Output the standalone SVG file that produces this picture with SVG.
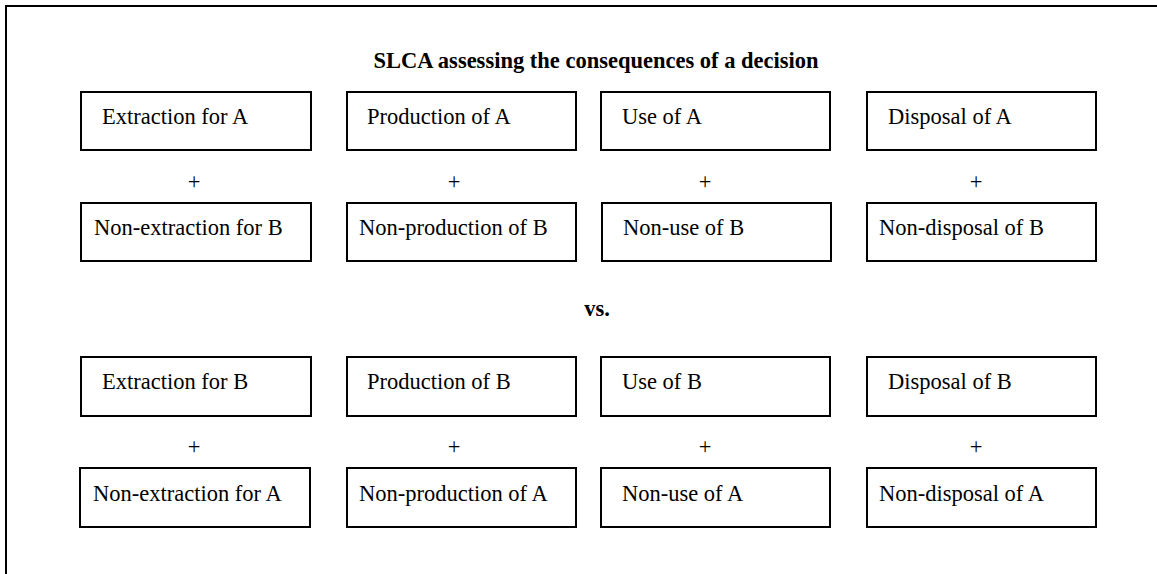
<svg xmlns="http://www.w3.org/2000/svg" width="1157" height="574" viewBox="0 0 1157 574">
<style>
.box{fill:#fff;stroke:#000;stroke-width:2}
.t{font-family:'Liberation Serif','Times New Roman',Tinos,'DejaVu Serif',serif;font-size:22.5px;fill:#000}
.b{font-weight:bold}
.p{text-anchor:middle}
</style>
<rect width="1157" height="574" fill="#fff"/>
<path d="M6,574 V6 H1157" fill="none" stroke="#000" stroke-width="2"/>
<text class="t b p" x="596" y="68">SLCA assessing the consequences of a decision</text>
<text class="t b p" x="597" y="316">vs.</text>
<g id="n1"><rect class="box" x="81" y="92" width="230" height="58"/><text class="t" x="102" y="124">Extraction for A</text></g>
<g id="n2"><rect class="box" x="347" y="92" width="229" height="58"/><text class="t" x="367" y="124">Production of A</text></g>
<g id="n3"><rect class="box" x="601" y="92" width="229" height="58"/><text class="t" x="622" y="124">Use of A</text></g>
<g id="n4"><rect class="box" x="867" y="92" width="229" height="58"/><text class="t" x="888" y="124">Disposal of A</text></g>
<g id="p1"><text class="t p" x="194" y="189">+</text><text class="t p" x="454" y="189">+</text><text class="t p" x="705" y="189">+</text><text class="t p" x="976" y="189">+</text></g>
<g id="n5"><rect class="box" x="81" y="203" width="230" height="58"/><text class="t" x="94" y="235">Non-extraction for B</text></g>
<g id="n6"><rect class="box" x="347" y="203" width="229" height="58"/><text class="t" x="359" y="235">Non-production of B</text></g>
<g id="n7"><rect class="box" x="602" y="203" width="229" height="58"/><text class="t" x="623" y="235">Non-use of B</text></g>
<g id="n8"><rect class="box" x="867" y="203" width="229" height="58"/><text class="t" x="879" y="235">Non-disposal of B</text></g>
<g id="n9"><rect class="box" x="81" y="357" width="230" height="59"/><text class="t" x="102" y="389">Extraction for B</text></g>
<g id="n10"><rect class="box" x="347" y="357" width="229" height="59"/><text class="t" x="367" y="389">Production of B</text></g>
<g id="n11"><rect class="box" x="601" y="357" width="229" height="59"/><text class="t" x="622" y="389">Use of B</text></g>
<g id="n12"><rect class="box" x="867" y="357" width="229" height="59"/><text class="t" x="888" y="389">Disposal of B</text></g>
<g id="p2"><text class="t p" x="194" y="454">+</text><text class="t p" x="454" y="454">+</text><text class="t p" x="705" y="454">+</text><text class="t p" x="976" y="454">+</text></g>
<g id="n13"><rect class="box" x="80" y="468" width="230" height="59"/><text class="t" x="93" y="501">Non-extraction for A</text></g>
<g id="n14"><rect class="box" x="347" y="468" width="229" height="59"/><text class="t" x="359" y="501">Non-production of A</text></g>
<g id="n15"><rect class="box" x="601" y="468" width="229" height="59"/><text class="t" x="622" y="501">Non-use of A</text></g>
<g id="n16"><rect class="box" x="867" y="468" width="229" height="59"/><text class="t" x="879" y="501">Non-disposal of A</text></g>
<g id="connectors"/>
</svg>
